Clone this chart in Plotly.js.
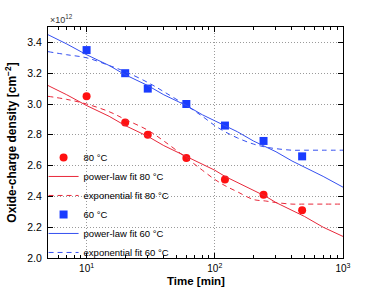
<!DOCTYPE html>
<html>
<head>
<meta charset="utf-8">
<script src="https://cdn.plot.ly/plotly-3.0.1.min.js"></script>
<style>html,body{margin:0;padding:0;background:#fff;}#chart{width:381px;height:287px;}</style>
</head>
<body>
<div id="chart"></div>
<script>
// Measured data (charge in units of 1e12 cm^-2)
const timeMin = [10, 20, 30, 60, 120, 240, 480];
const charge80 = [3.05, 2.88, 2.80, 2.65, 2.51, 2.41, 2.31];
const charge60 = [3.35, 3.20, 3.10, 3.00, 2.86, 2.76, 2.66];

// Fit curves
const fitTime = [5, 7, 10, 15, 20, 30, 40, 60, 80, 100, 120, 150, 200, 250, 300, 400, 500, 700, 1000];
const power80 = [3.12, 3.06, 2.99, 2.92, 2.86, 2.79, 2.73, 2.66, 2.61, 2.57, 2.53, 2.49, 2.44, 2.40, 2.36, 2.31, 2.27, 2.20, 2.14];
const exp80   = [3.05, 3.03, 3.00, 2.95, 2.90, 2.83, 2.76, 2.65, 2.57, 2.51, 2.47, 2.43, 2.38, 2.37, 2.36, 2.35, 2.35, 2.35, 2.35];
const power60 = [3.45, 3.39, 3.32, 3.25, 3.19, 3.12, 3.06, 2.99, 2.93, 2.89, 2.86, 2.82, 2.76, 2.72, 2.69, 2.63, 2.59, 2.53, 2.46];
const exp60   = [3.34, 3.32, 3.30, 3.25, 3.21, 3.14, 3.08, 2.99, 2.92, 2.86, 2.82, 2.78, 2.74, 2.72, 2.71, 2.70, 2.70, 2.70, 2.70];

const seriesNames = ['80 °C', 'power-law fit 80 °C', 'exponential fit 80 °C',
                     '60 °C', 'power-law fit 60 °C', 'exponential fit 60 °C'];
const xTitle = 'Time [min]';
const yTitle = 'Oxide-charge density [cm<sup>−2</sup>]';
const xTickVals = [10, 100, 1000];
const xTickText = ['10<sup>1</sup>', '10<sup>2</sup>', '10<sup>3</sup>'];
const xMinorVals = [5, 6, 7, 8, 9, 20, 30, 40, 50, 60, 70, 80, 90, 200, 300, 400, 500, 600, 700, 800, 900];

const RED = '#ff1010', REDL = '#e8283a', BLUE = '#1a3cff', BLUEL = '#3550f0';
const DASH = '5px,4px';

const traces = [
  {x: timeMin, y: charge80, name: seriesNames[0], mode: 'markers', type: 'scatter',
   marker: {symbol: 'circle', size: 8, color: RED}},
  {x: fitTime, y: power80, name: seriesNames[1], mode: 'lines', type: 'scatter',
   line: {color: REDL, width: 1}},
  {x: fitTime, y: exp80, name: seriesNames[2], mode: 'lines', type: 'scatter',
   line: {color: REDL, width: 1, dash: DASH, shape: 'spline'}},
  {x: timeMin, y: charge60, name: seriesNames[3], mode: 'markers', type: 'scatter',
   marker: {symbol: 'square', size: 8, color: BLUE}},
  {x: fitTime, y: power60, name: seriesNames[4], mode: 'lines', type: 'scatter',
   line: {color: BLUEL, width: 1}},
  {x: fitTime, y: exp60, name: seriesNames[5], mode: 'lines', type: 'scatter',
   line: {color: BLUEL, width: 1, dash: DASH, shape: 'spline'}}
];

const FONT = 'Liberation Sans, Arial, Helvetica, sans-serif';

const layout = {
  width: 381, height: 287,
  margin: {l: 48, r: 38, t: 27, b: 29, pad: 0},
  paper_bgcolor: '#fff', plot_bgcolor: '#fff',
  font: {family: FONT, size: 10, color: '#000'},
  showlegend: true,
  legend: {x: -0.015, y: 0.498, xanchor: 'left', yanchor: 'top',
           bgcolor: 'rgba(0,0,0,0)', borderwidth: 0,
           font: {family: FONT, size: 9.5, color: '#000'}, tracegroupgap: 0},
  xaxis: {
    type: 'log', range: [Math.log10(5), 3],
    tickmode: 'array', tickvals: xTickVals, ticktext: xTickText,
    ticks: 'inside', ticklen: 5, tickcolor: '#000',
    showline: true, linecolor: '#000', linewidth: 1, mirror: 'allticks',
    showgrid: true, gridcolor: '#9a9a9a', gridwidth: 1, griddash: '1px,2px',
    zeroline: false, ticklabelstandoff: 1,
    minor: {tickmode: 'array', tickvals: xMinorVals, ticks: 'inside', ticklen: 3, tickcolor: '#000', showgrid: false},
    tickfont: {size: 10}
  },
  yaxis: {
    range: [2.0, 3.5], tickmode: 'linear', tick0: 2.0, dtick: 0.2, tickformat: '.1f',
    ticks: 'inside', ticklen: 5, tickcolor: '#000',
    showline: true, linecolor: '#000', linewidth: 1, mirror: 'allticks',
    showgrid: true, gridcolor: '#9a9a9a', gridwidth: 1, griddash: '1px,2px',
    zeroline: false, ticklabelstandoff: 3,
    tickfont: {size: 10.5},
    title: {text: '<b>' + yTitle + '</b>', font: {size: 12}, standoff: 8}
  },
  annotations: [
    {xref: 'paper', yref: 'paper', x: 0, y: 1, xanchor: 'left', yanchor: 'bottom',
     text: '×10<sup>12</sup>', showarrow: false, font: {size: 9, color: '#333'}},
    {xref: 'paper', yref: 'paper', x: 0.5, y: -0.132, xanchor: 'center', yanchor: 'bottom',
     text: '<b>' + xTitle + '</b>', showarrow: false, borderpad: 0, font: {size: 11.5, color: '#000'}}
  ]
};

Plotly.newPlot('chart', traces, layout, {staticPlot: true, displayModeBar: false});
</script>
</body>
</html>
